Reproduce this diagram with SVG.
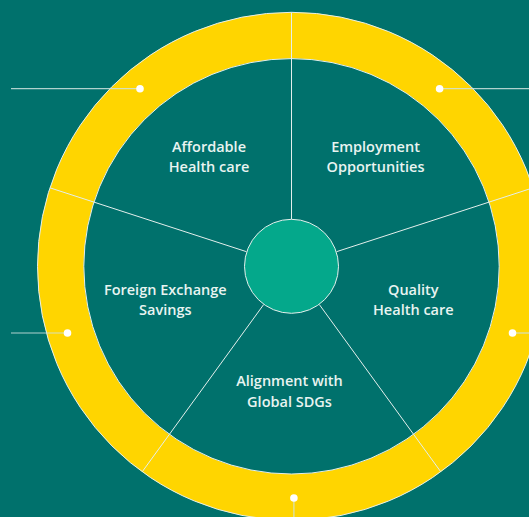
<svg xmlns="http://www.w3.org/2000/svg" width="529" height="517" viewBox="0 0 529 517">
<defs>
<style>
.edge{fill:none;stroke:#e4efec;stroke-width:1}
.lead{fill:none;stroke:#cfe3df;stroke-width:1.2;opacity:0.85}
.dot{fill:#ffffff}
.lbl{font-family:"Open Sans","Liberation Sans",sans-serif;font-weight:600;font-size:14.5px;fill:#e9f4f1;text-anchor:middle}
</style>
</defs>
<rect width="529" height="517" fill="#00716c"/>
<g id="ring">
<circle cx="291.5" cy="266.3" r="230.9" fill="none" stroke="#ffd500" stroke-width="46.3"/>
<circle class="edge" cx="291.5" cy="266.3" r="254"/>
<circle class="edge" cx="291.5" cy="266.3" r="207.7"/>
</g>
<g id="connectors">
<line class="edge" x1="291.5" y1="219" x2="291.5" y2="12.3"/>
<line class="edge" x1="246.5" y1="251.7" x2="49.9" y2="187.8"/>
<line class="edge" x1="336.5" y1="251.7" x2="533.1" y2="187.8"/>
<line class="edge" x1="263.7" y1="304.5" x2="142.2" y2="471.8"/>
<line class="edge" x1="319.3" y1="304.5" x2="440.8" y2="471.8"/>
<line class="lead" x1="11" y1="88.7" x2="140" y2="88.7"/>
<line class="lead" x1="439.6" y1="88.7" x2="529" y2="88.7"/>
<line class="lead" x1="11" y1="333" x2="67.5" y2="333"/>
<line class="lead" x1="512.5" y1="333" x2="529" y2="333"/>
<line class="lead" x1="293.9" y1="498" x2="293.9" y2="517"/>
<circle class="dot" cx="140" cy="88.7" r="3.8"/>
<circle class="dot" cx="439.6" cy="88.7" r="3.8"/>
<circle class="dot" cx="67.5" cy="333" r="3.8"/>
<circle class="dot" cx="512.5" cy="333" r="3.8"/>
<circle class="dot" cx="293.9" cy="498" r="3.8"/>
</g>
<g id="center">
<circle cx="291.5" cy="266.3" r="47" fill="#04a88b" stroke="#e4efec" stroke-width="1"/>
</g>
<g id="affordable">
<text class="lbl" x="209" y="151.5">Affordable</text>
<text class="lbl" x="209" y="171.5">Health care</text>
</g>
<g id="employment">
<text class="lbl" x="375.5" y="151.5">Employment</text>
<text class="lbl" x="375.5" y="171.5">Opportunities</text>
</g>
<g id="foreign">
<text class="lbl" x="165.3" y="295.3">Foreign Exchange</text>
<text class="lbl" x="165.3" y="315.3">Savings</text>
</g>
<g id="quality">
<text class="lbl" x="413.3" y="295.3">Quality</text>
<text class="lbl" x="413.3" y="315.3">Health care</text>
</g>
<g id="alignment">
<text class="lbl" x="289.5" y="386.3">Alignment with</text>
<text class="lbl" x="289.5" y="407">Global SDGs</text>
</g>
</svg>
